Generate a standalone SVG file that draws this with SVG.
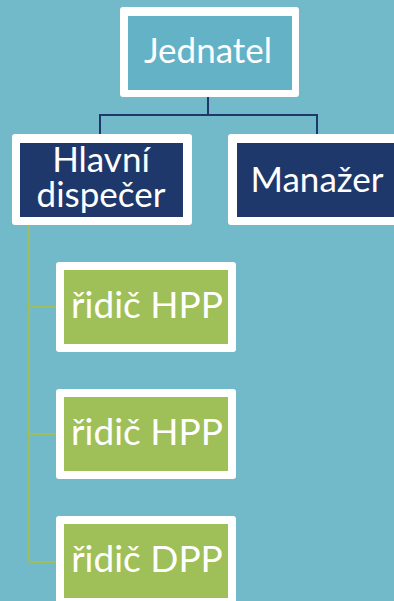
<svg xmlns="http://www.w3.org/2000/svg" width="394" height="601" viewBox="0 0 394 601">
<style>
.outer{fill:#ffffff}
.t{font-family:"Lato","Liberation Sans",sans-serif;fill:#ffffff;text-anchor:middle;font-size:35px}
.g{font-size:37px}
.navy{fill:#1f386c}
.green{fill:#9fbf58}
.c1{stroke:#1f386c;stroke-width:2;fill:none}
.c2{stroke:#9fbf58;stroke-width:2;fill:none}
</style>
<rect x="0" y="0" width="394" height="601" fill="#72bac9"/>
<g id="connectors">
<path class="c1" d="M208,97 V115 H100 V134 M208,115 H317 V134"/>
<path class="c2" d="M29,225 V562 M29,307 H56 M29,434 H56 M29,562 H56"/>
</g>
<g id="jednatel">
<rect class="outer" x="120" y="7" width="179" height="90" rx="3"/>
<rect x="128" y="16" width="164" height="74" fill="#63b2c6"/>
<text class="t" x="208" y="63">Jednatel</text>
</g>
<g id="hlavni">
<rect class="outer" x="12" y="134" width="180" height="91" rx="3"/>
<rect class="navy" x="20" y="143" width="163" height="74"/>
<text class="t" x="101" y="172">Hlavní</text>
<text class="t" x="101" y="207">dispečer</text>
</g>
<g id="manazer">
<rect class="outer" x="228" y="134" width="180" height="91" rx="3"/>
<rect class="navy" x="237" y="143" width="163" height="74"/>
<text class="t" x="317" y="192">Manažer</text>
</g>
<g id="ridic1">
<rect class="outer" x="56" y="262" width="180" height="90" rx="3"/>
<rect class="green" x="64" y="270" width="164" height="74"/>
<text class="t g" x="147" y="318">řidič HPP</text>
</g>
<g id="ridic2">
<rect class="outer" x="56" y="389" width="180" height="90" rx="3"/>
<rect class="green" x="64" y="397" width="164" height="74"/>
<text class="t g" x="147" y="445">řidič HPP</text>
</g>
<g id="ridic3">
<rect class="outer" x="56" y="516" width="180" height="90" rx="3"/>
<rect class="green" x="64" y="524" width="164" height="74"/>
<text class="t g" x="147" y="572">řidič DPP</text>
</g>
</svg>
